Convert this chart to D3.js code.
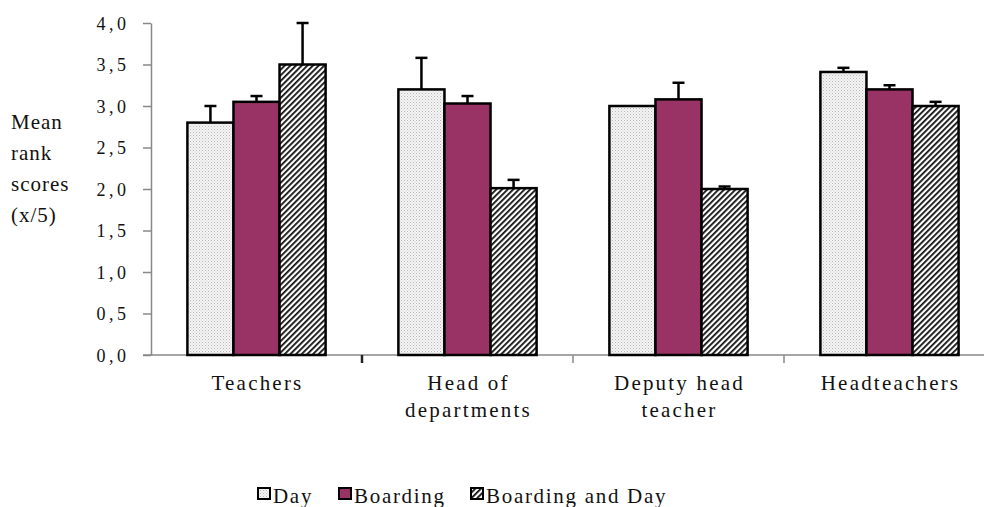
<!DOCTYPE html>
<html>
<head>
<meta charset="utf-8">
<script src="https://cdn.jsdelivr.net/npm/d3@7"></script>
<style>
  body { margin: 0; background: #fff; }
</style>
</head>
<body>
<div id="chart"></div>
<script>
// data
var categories = ["Teachers", "Head of|departments", "Deputy head|teacher", "Headteachers"];
var seriesNames = ["Day", "Boarding", "Boarding and Day"];
var dayValues = [2.8, 3.2, 3.0, 3.41];
var boardingValues = [3.05, 3.03, 3.08, 3.2];
var bothValues = [3.5, 2.01, 2.0, 3.0];
var dayErr = [0.2, 0.38, 0, 0.05];
var boardingErr = [0.07, 0.09, 0.2, 0.05];
var bothErr = [0.5, 0.1, 0.03, 0.05];
var yTicks = [0, 0.5, 1, 1.5, 2, 2.5, 3, 3.5, 4];

var serif = "'Liberation Serif'";
var width = 984, height = 507;
var svg = d3.select("#chart").append("svg")
  .attr("width", width)
  .attr("height", height);

// patterns
var defs = svg.append("defs");
var dots = defs.append("pattern")
  .attr("id", "dots").attr("patternUnits", "userSpaceOnUse")
  .attr("width", 3).attr("height", 3);
dots.append("rect").attr("width", 3).attr("height", 3).attr("fill", "#f4f4f4");
dots.append("rect").attr("width", 1).attr("height", 1).attr("fill", "#b8b8b8");
dots.append("rect").attr("x", 1.5).attr("y", 1.5).attr("width", 1).attr("height", 1).attr("fill", "#cfcfcf");

var hatch = defs.append("pattern")
  .attr("id", "hatch").attr("patternUnits", "userSpaceOnUse")
  .attr("width", 4).attr("height", 4)
  .attr("patternTransform", "rotate(45)");
hatch.append("rect").attr("width", 4).attr("height", 4).attr("fill", "#fff");
hatch.append("rect").attr("width", 1.8).attr("height", 4).attr("fill", "#111");

var fills = ["url(#dots)", "#993366", "url(#hatch)"];

var x0 = d3.scaleBand().domain(categories).range([151, 995]).paddingInner(0).paddingOuter(0);
var x1 = d3.scaleBand().domain(seriesNames).range([0, x0.bandwidth()]).paddingOuter(0.79).paddingInner(0);
var y = d3.scaleLinear().domain([0, 4]).range([355, 23]);

var rows = categories.map(function(c, i) {
  return {
    cat: c,
    vals: [
      { s: seriesNames[0], v: dayValues[i], e: dayErr[i], f: fills[0] },
      { s: seriesNames[1], v: boardingValues[i], e: boardingErr[i], f: fills[1] },
      { s: seriesNames[2], v: bothValues[i], e: bothErr[i], f: fills[2] }
    ]
  };
});

// axes
var yAxis = svg.append("g")
  .attr("transform", "translate(151,0)")
  .call(d3.axisLeft(y).tickValues(yTicks).tickSize(8).tickSizeOuter(0)
    .tickFormat(function(d) { return d3.format(".1f")(d).replace(".", ","); }));
yAxis.select(".domain").attr("stroke", "#888").attr("stroke-width", 1.5);
yAxis.selectAll(".tick line").attr("stroke", "#888").attr("stroke-width", 1.5);
yAxis.selectAll(".tick text")
  .attr("x", -21.5).attr("dy", "0.36em").attr("fill", "#111")
  .style("font-family", serif)
  .style("font-size", "18px").style("letter-spacing", "3.5px");

var xAxisG = svg.append("g");
xAxisG.append("line")
  .attr("x1", 143).attr("x2", 995).attr("y1", y(0)).attr("y2", y(0))
  .attr("stroke", "#888").attr("stroke-width", 1.5);
xAxisG.selectAll(".xt")
  .data(categories.slice(1))
  .enter().append("line")
  .attr("x1", function(d) { return x0(d); })
  .attr("x2", function(d) { return x0(d); })
  .attr("y1", y(0)).attr("y2", y(0) + 8)
  .attr("stroke", function(d, i) { return i === 0 ? "#222" : "#888"; })
  .attr("stroke-width", function(d, i) { return i === 0 ? 2.5 : 1.5; });

// bars
var groups = svg.append("g").selectAll("g")
  .data(rows).enter().append("g")
  .attr("transform", function(d) { return "translate(" + x0(d.cat) + ",0)"; });

groups.selectAll("rect")
  .data(function(d) { return d.vals; })
  .enter().append("rect")
  .attr("x", function(d) { return x1(d.s); })
  .attr("y", function(d) { return y(d.v); })
  .attr("width", x1.bandwidth())
  .attr("height", function(d) { return y(0) - y(d.v); })
  .attr("fill", function(d) { return d.f; })
  .attr("stroke", "#000").attr("stroke-width", 2.5);

// error bars
var errs = groups.selectAll(".err")
  .data(function(d) { return d.vals.filter(function(v) { return v.e > 0; }); })
  .enter().append("g").attr("class", "err");
errs.append("line")
  .attr("x1", function(d) { return x1(d.s) + x1.bandwidth() / 2; })
  .attr("x2", function(d) { return x1(d.s) + x1.bandwidth() / 2; })
  .attr("y1", function(d) { return y(d.v); })
  .attr("y2", function(d) { return y(d.v + d.e); })
  .attr("stroke", "#000").attr("stroke-width", 2.5);
errs.append("line")
  .attr("x1", function(d) { return x1(d.s) + x1.bandwidth() / 2 - 6; })
  .attr("x2", function(d) { return x1(d.s) + x1.bandwidth() / 2 + 6; })
  .attr("y1", function(d) { return y(d.v + d.e); })
  .attr("y2", function(d) { return y(d.v + d.e); })
  .attr("stroke", "#000").attr("stroke-width", 2.5);

// category labels
svg.append("g").selectAll("text")
  .data(categories).enter().append("text")
  .attr("x", function(d) { return x0(d) + x0.bandwidth() / 2; })
  .attr("y", 390)
  .attr("text-anchor", "middle")
  .style("font-family", serif)
  .style("font-size", "21px").style("letter-spacing", "2.2px")
  .attr("fill", "#111")
  .each(function(d) {
    var t = d3.select(this);
    d.split("|").forEach(function(line, i) {
      t.append("tspan").attr("x", x0(d) + x0.bandwidth() / 2 + 1).attr("dy", i ? 27 : 0).text(line);
    });
  });

// y label
var yl = svg.append("text").attr("x", 11).attr("y", 129)
  .style("font-family", serif)
  .style("font-size", "21px").style("letter-spacing", "1px").attr("fill", "#111");
["Mean", "rank", "scores", "(x/5)"].forEach(function(w, i) {
  yl.append("tspan").attr("x", 11).attr("dy", i ? 31 : 0).text(w);
});

// legend
var legendX = [257, 338, 470];
var legend = svg.append("g").selectAll("g")
  .data(seriesNames).enter().append("g")
  .attr("transform", function(d, i) { return "translate(" + legendX[i] + ",487)"; });
legend.append("rect")
  .attr("x", 1).attr("y", 1)
  .attr("width", 12).attr("height", 11)
  .attr("fill", function(d, i) { return fills[i]; })
  .attr("stroke", "#000").attr("stroke-width", 2);
legend.append("text")
  .attr("x", 16).attr("y", 16)
  .style("font-family", serif)
  .style("font-size", "21px").style("letter-spacing", "1.7px")
  .attr("fill", "#111")
  .text(function(d) { return d; });
</script>
</body>
</html>
